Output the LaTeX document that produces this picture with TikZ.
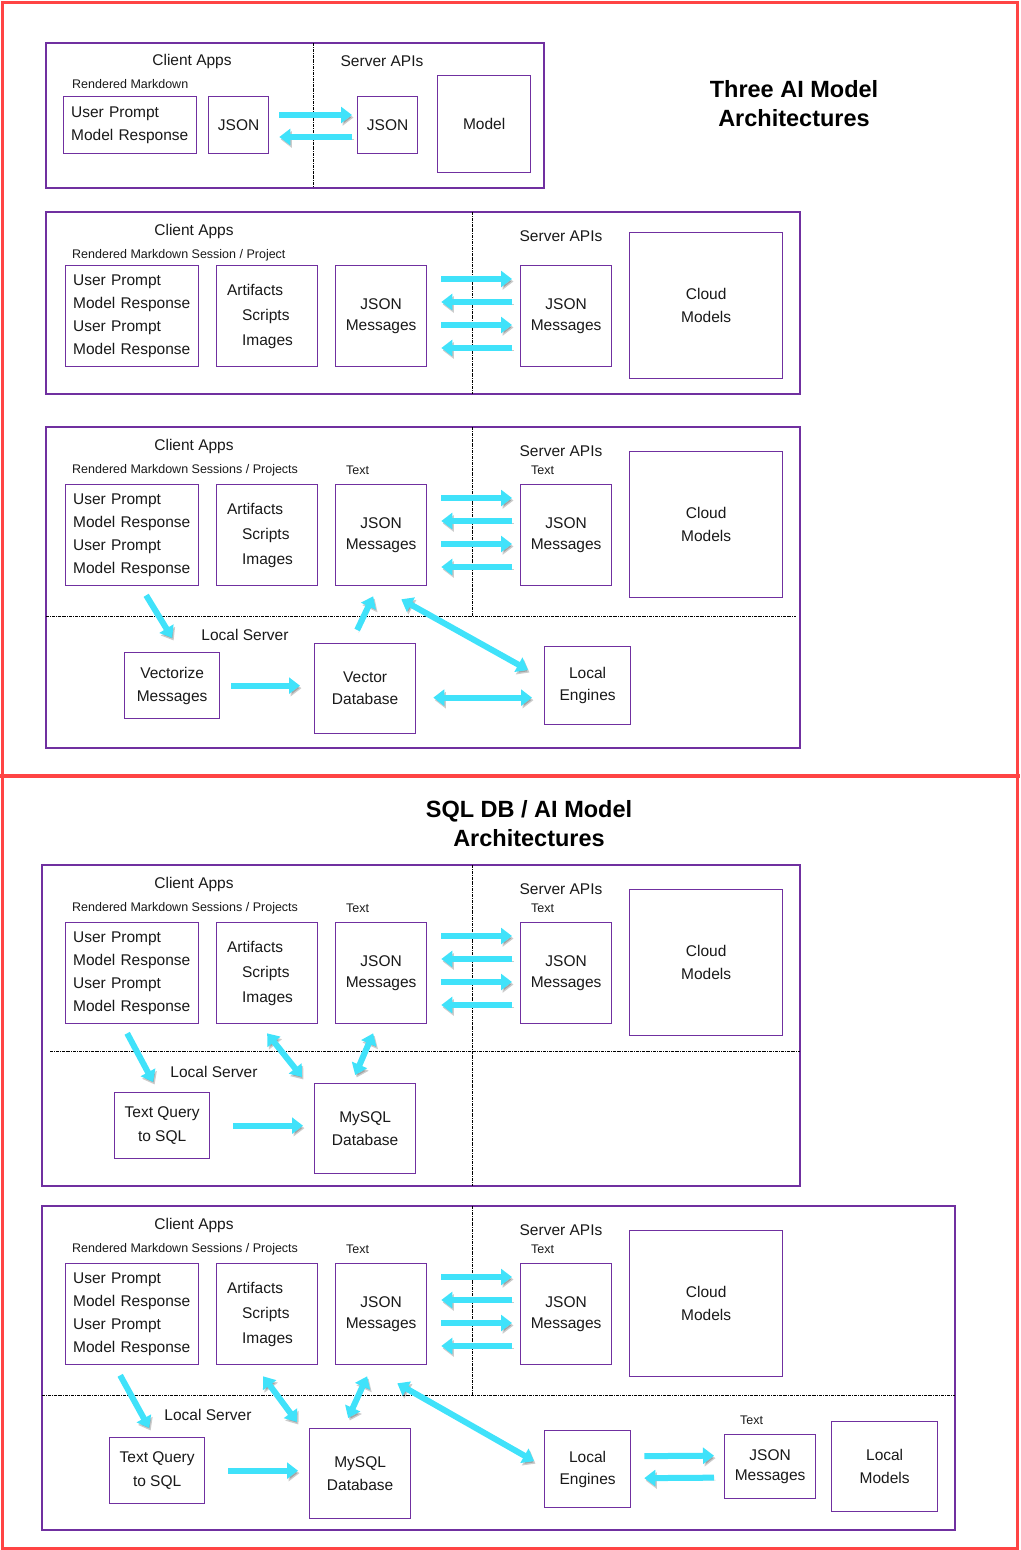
\documentclass[tikz,border=0pt]{standalone}
\usepackage{fontspec}
\setmainfont{Liberation Sans}
\usetikzlibrary{arrows.meta, positioning}
\definecolor{purp}{RGB}{112,48,160}
\definecolor{flowc}{RGB}{64,226,250}
\definecolor{redline}{RGB}{255,68,68}
\tikzstyle{box}=[draw=purp, line width=1.3pt, fill=white, inner sep=0pt, anchor=north west]
\tikzstyle{lbl}=[font=\fontsize{15.5}{23}\selectfont, text=black!90, inner sep=0pt, align=center]
\tikzstyle{sml}=[font=\fontsize{12.5}{14}\selectfont, text=black!90, inner sep=0pt]
\tikzstyle{ttl}=[font=\bfseries\fontsize{23.5}{29}\selectfont, text=black, inner sep=0pt, align=center]
\tikzstyle{flow}=[flowc, line width=6pt, -{Triangle[length=11pt,width=16pt]},
  preaction={draw=black, opacity=.2, transform canvas={shift={(1.5pt,-2.5pt)}}}]
\tikzstyle{flow2}=[flow, {Triangle[length=11pt,width=16pt]}-{Triangle[length=11pt,width=16pt]}]
\tikzstyle{sep}=[black, line width=0.8pt, densely dashdotted]
\tikzstyle{frm}=[draw=purp, line width=1.3pt]
\tikzset{cell/.style 2 args={minimum width=#1pt, minimum height=#2pt}}
% one client / server row, #1 label drop, #2 name prefix, #3 top of the boxes, #4 caption
\newcommand{\clientrow}[4][0]{%
  \begin{scope}[yshift=-#3pt]
    \node[lbl] (#2ca) at (194,{-38+#1}) {Client Apps};
    \node[sml, anchor=west] (#2rm) at (72,{-14+#1}) {#4};
    \node[lbl] (#2sa) at (561,{-33+#1}) {Server APIs};
    \node[box, lbl, cell={133}{101}, text width=118pt, align=left] (#2up) at (65,0)
      {User Prompt\\Model Response\\User Prompt\\Model Response};
    \node[box, lbl, cell={101}{101}, text width=80pt, align=left,
      font=\fontsize{15.5}{25}\selectfont] (#2art) at (216,0)
      {Artifacts\\\hspace*{15pt}Scripts\\\hspace*{15pt}Images};
    \node[box, lbl, cell={91}{101}, font=\fontsize{15.5}{21}\selectfont] (#2cj) at (335,0) {JSON\\Messages};
    \node[box, lbl, cell={91}{101}, font=\fontsize{15.5}{21}\selectfont] (#2sj) at (520,0) {JSON\\Messages};
    \node[box, lbl, cell={153}{146}] (#2cm) at (629,-33) {Cloud\\Models};
  \end{scope}
  \foreach \dy in {14,60}
    \draw[flow] ([xshift=14pt,yshift=-\dy pt]#2cj.north east) -- ([xshift=-8pt,yshift=-\dy pt]#2sj.north west);
  \foreach \dy in {37,83}
    \draw[flow] ([xshift=-8pt,yshift=-\dy pt]#2sj.north west) -- ([xshift=14pt,yshift=-\dy pt]#2cj.north east);
}

\begin{document}
\begin{tikzpicture}[x=1pt, y=-1pt]
    \useasboundingbox (0,0) rectangle (1020,1550);
    \draw[redline, line width=3pt] (2,2) rectangle (1017,1548);
    \draw[redline, line width=4.5pt] (0,776) -- (1020,776);

    \node[ttl] (t1) at (794,104) {Three AI Model\\Architectures};
    \node[ttl] (t2) at (529,824) {SQL DB / AI Model\\Architectures};

    % plain client and server
    \draw[frm] (46,43) rectangle (544,188);
    \draw[sep] (313,43) -- (313,188);
    \node[lbl] (ca1) at (192,61) {Client Apps};
    \node[lbl] (sa1) at (382,61) {Server APIs};
    \node[sml, anchor=west] (rm1) at (72,84) {Rendered Markdown};
    \node[box, lbl, cell={133}{57}, text width=118pt, align=left] (up1) at (63,96) {User Prompt\\Model Response};
    \node[box, lbl, cell={60}{57}] (cj1) at (208,96) {JSON};
    \node[box, lbl, cell={60}{57}] (sj1) at (357,96) {JSON};
    \node[box, lbl, cell={93}{97}] (mod1) at (437,75) {Model};
    \draw[flow] ([xshift=10pt,yshift=-19pt]cj1.north east) -- ([xshift=-5pt,yshift=-19pt]sj1.north west);
    \draw[flow] ([xshift=-5pt,yshift=-41pt]sj1.north west) -- ([xshift=10pt,yshift=-41pt]cj1.north east);

    % sessions
    \draw[frm] (46,212) rectangle (800,394);
    \draw[sep] (472,212) -- (472,394);
    \clientrow[4]{b}{265}{Rendered Markdown Session / Project}

    % sessions with local server
    \draw[frm] (46,427) rectangle (800,748);
    \draw[sep] (472,427) -- (472,616);
    \draw[sep] (46,616) -- (796,616);
    \clientrow{c}{484}{Rendered Markdown Sessions / Projects}
    \node[sml, anchor=south west] at ([xshift=11pt,yshift=9pt]ccj.north west) {Text};
    \node[sml, anchor=south west] at ([xshift=11pt,yshift=9pt]csj.north west) {Text};
    \node[lbl] (ls3) at (245,635) {Local Server};
    \node[box, lbl, cell={95}{66}] (vec) at (124,652) {Vectorize\\Messages};
    \node[box, lbl, cell={101}{90}, font=\fontsize{15.5}{22}\selectfont] (vdb) at (314,643) {Vector\\Database};
    \node[box, lbl, cell={86}{78}, font=\fontsize{15.5}{22}\selectfont] (le3) at (544,646) {Local\\Engines};
    \draw[flow] ([xshift=14pt,yshift=-9pt]cup.south) -- ([yshift=14pt]vec.north);
    \draw[flow] ([xshift=-8pt,yshift=13pt]vdb.north) -- ([xshift=-8pt,yshift=-10pt]ccj.south);
    \draw[flow2] ([xshift=-26pt,yshift=-13pt]ccj.south east) -- ([xshift=-16pt,yshift=-24pt]le3.north west);
    \draw[flow] ([xshift=11pt]vec.east) -- ([xshift=-14pt]vdb.west |- vec.east);
    \draw[flow2] ([xshift=17pt,yshift=-9pt]vdb.east) -- ([xshift=-12pt,yshift=-12pt]le3.west);

    % SQL database
    \draw[frm] (42,865) rectangle (800,1186);
    \draw[sep] (472,865) -- (472,1186);
    \draw[sep] (50,1051) -- (800,1051);
    \clientrow{d}{922}{Rendered Markdown Sessions / Projects}
    \node[sml, anchor=south west] at ([xshift=11pt,yshift=9pt]dcj.north west) {Text};
    \node[sml, anchor=south west] at ([xshift=11pt,yshift=9pt]dsj.north west) {Text};
    \node[lbl] (ls4) at (214,1072) {Local Server};
    \node[box, lbl, cell={95}{66}, font=\fontsize{15.5}{24}\selectfont] (tq4) at (114,1092) {Text Query\\to SQL};
    \node[box, lbl, cell={101}{90}] (db4) at (314,1083) {MySQL\\Database};
    \draw[flow] ([xshift=-5pt,yshift=-9pt]dup.south) -- ([xshift=-9pt,yshift=10pt]tq4.north);
    \draw[flow2] ([yshift=-9pt]dart.south) -- ([xshift=-12pt,yshift=6pt]db4.north west);
    \draw[flow2] ([xshift=-8pt,yshift=-9pt]dcj.south) -- ([xshift=-10pt,yshift=8pt]db4.north);
    \draw[flow] ([xshift=23pt]tq4.east) -- ([xshift=-11pt]db4.west |- tq4.east);

    % SQL database with local models
    \draw[frm] (42,1206) rectangle (955,1530);
    \draw[sep] (472,1206) -- (472,1395);
    \draw[sep] (42,1395) -- (955,1395);
    \clientrow{e}{1263}{Rendered Markdown Sessions / Projects}
    \node[sml, anchor=south west] at ([xshift=11pt,yshift=9pt]ecj.north west) {Text};
    \node[sml, anchor=south west] at ([xshift=11pt,yshift=9pt]esj.north west) {Text};
    \node[lbl] (ls5) at (208,1415) {Local Server};
    \node[box, lbl, cell={95}{66}, font=\fontsize{15.5}{24}\selectfont] (tq5) at (109,1437) {Text Query\\to SQL};
    \node[box, lbl, cell={101}{90}] (db5) at (309,1428) {MySQL\\Database};
    \node[box, lbl, cell={86}{77}, font=\fontsize{15.5}{22}\selectfont] (le5) at (544,1430) {Local\\Engines};
    \node[box, lbl, cell={91}{64}, font=\fontsize{15.5}{20}\selectfont] (lj5) at (724,1434) {JSON\\Messages};
    \node[box, lbl, cell={106}{90}] (lm5) at (831,1421) {Local\\Models};
    \node[sml, anchor=south west] at ([xshift=16pt,yshift=9pt]lj5.north west) {Text};
    \draw[flow] ([xshift=-12pt,yshift=-10pt]eup.south) -- ([xshift=-8pt,yshift=9pt]tq5.north);
    \draw[flow2] ([xshift=-4pt,yshift=-11pt]eart.south) -- ([xshift=-12pt,yshift=6pt]db5.north west);
    \draw[flow2] ([xshift=-14pt,yshift=-11pt]ecj.south) -- ([xshift=-12pt,yshift=10pt]db5.north);
    \draw[flow2] ([xshift=-30pt,yshift=-18pt]ecj.south east) -- ([xshift=-10pt,yshift=8pt]le5.west);
    \draw[flow] ([xshift=23pt]tq5.east) -- ([xshift=-11pt]db5.west |- tq5.east);
    \draw[flow] ([xshift=13pt,yshift=13pt]le5.east) -- ([xshift=-10pt,yshift=11pt]lj5.west);
    \draw[flow] ([xshift=-10pt,yshift=-11pt]lj5.west) -- ([xshift=13pt,yshift=-9pt]le5.east);
\end{tikzpicture}
\end{document}
